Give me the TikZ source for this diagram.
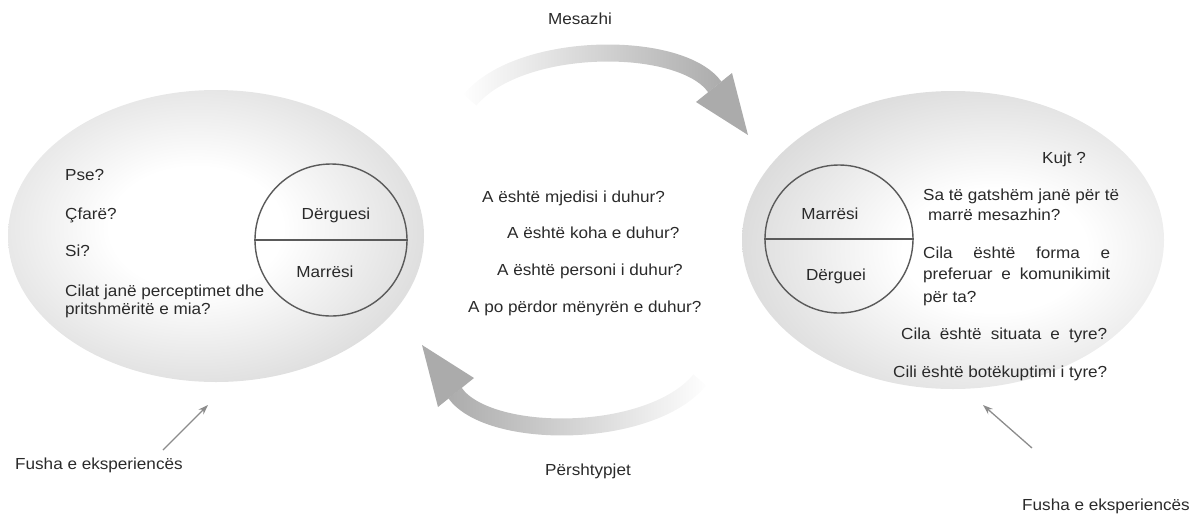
\documentclass[tikz,border=0pt]{standalone}
\usepackage{fontspec}
\setmainfont{Liberation Sans}[FakeStretch=1.07]
\usetikzlibrary{fadings,arrows.meta}
\definecolor{txt}{HTML}{2A2A2A}
\definecolor{arr}{HTML}{ABABAB}
\definecolor{ring}{HTML}{5A5A5A}
\definecolor{thinarr}{HTML}{8C8C8C}
\pgfdeclareradialshading{glow}{\pgfpoint{0bp}{0bp}}{color(0bp)=(white);color(9bp)=(white);color(50bp)=(black!35);color(75bp)=(black!38)}
\tikzfading[name=fadeL, left color=transparent!100, middle color=transparent!85, right color=transparent!0]
\tikzfading[name=fadeR, left color=transparent!0, middle color=transparent!85, right color=transparent!100]
\tikzset{
  lbl/.style={text=txt, font=\fontsize{16}{18}\selectfont, inner sep=0pt, anchor=base west},
  clbl/.style={text=txt, font=\fontsize{16}{18}\selectfont, inner sep=0pt, anchor=base},
  ringnode/.style={circle, draw=ring, line width=1.4pt, inner sep=0pt},
  band/.style={draw=arr, line width=17pt, line cap=butt},
  headfill/.style={fill=arr, draw=none},
  thinarrow/.style={draw=thinarr, line width=1.3pt, -{Stealth[length=10pt,width=7pt]}}
}
\begin{document}
\begin{tikzpicture}[x=1pt,y=-1pt]
\useasboundingbox (0,0) rectangle (1194,515);
% ellipses
\begin{scope}
  \clip (216,236) ellipse [x radius=208, y radius=146];
  \shade[shading=glow] (-44,58) rectangle (436,398);
\end{scope}
\begin{scope}
  \clip (953,240) ellipse [x radius=211, y radius=149];
  \shade[shading=glow] (740,78) rectangle (1250,422);
\end{scope}
% circles
\node[ringnode, minimum size=152pt] (cL) at (331,240) {};
\draw[ring, line width=1.4pt] (cL.west) -- (cL.east);
\node[ringnode, minimum size=148pt] (cR) at (839,239) {};
\draw[ring, line width=1.4pt] (cR.west) -- (cR.east);
% big arrows
\path[band, path fading=fadeL] (470,100) .. controls (520,40) and (681,39.5) .. (715,87);
\fill[headfill] (732,73) -- (748,135) -- (696,102) -- cycle;
\path[band, path fading=fadeR] (700,380) .. controls (650,440) and (489,440.5) .. (455,393);
\fill[headfill] (438,407) -- (422,345) -- (474,378) -- cycle;
% left ellipse texts
\node[lbl] (pse) at (65,180) {Pse?};
\node[lbl] (cfare) at (65,219) {Çfarë?};
\node[lbl] (si) at (65,256) {Si?};
\node[lbl] (cilat1) at (65,296) {Cilat janë perceptimet dhe};
\node[lbl] (cilat2) at (65,314) {pritshmëritë e mia?};
\node[clbl] (dergL) at (336,219) {Dërguesi};
\node[clbl] (marrL) at (325,277) {Marrësi};
% middle texts
\node[lbl] (m1) at (482,202) {A është mjedisi i duhur?};
\node[lbl] (m2) at (507,238) {A është koha e duhur?};
\node[lbl] (m3) at (497,275) {A është personi i duhur?};
\node[lbl] (m4) at (468,312) {A po përdor mënyrën e duhur?};
% right ellipse texts
\node[clbl] (marrR) at (830,219) {Marrësi};
\node[clbl] (dergR) at (836,280) {Dërguei};
\node[lbl] (kujt) at (1042,163) {Kujt ?};
\node[lbl] (sa1) at (923,200) {Sa të gatshëm janë për të};
\node[lbl] (sa2) at (928,220) {marrë mesazhin?};
\node[lbl] (cf1) at (923,258) {\makebox[187pt][s]{Cila është forma e}};
\node[lbl] (cf2) at (923,279) {\makebox[187pt][s]{preferuar e komunikimit}};
\node[lbl] (cf3) at (923,302) {për ta?};
\node[lbl] (cs) at (901,339) {\makebox[206pt][s]{Cila është situata e tyre?}};
\node[lbl] (cb) at (893,377) {Cili është botëkuptimi i tyre?};
% arrow labels
\node[clbl] (mes) at (580,24) {Mesazhi};
\node[clbl] (persh) at (588,475) {Përshtypjet};
% field of experience
\node[lbl] (fL) at (15,469) {Fusha e eksperiencës};
\node[lbl] (fR) at (1022,510) {Fusha e eksperiencës};
\coordinate (fLs) at (163,450);
\coordinate (fLe) at (208,405);
\coordinate (fRs) at (1032,448);
\coordinate (fRe) at (983,405);
\draw[thinarrow] (fLs) -- (fLe);
\draw[thinarrow] (fRs) -- (fRe);
\end{tikzpicture}
\end{document}
